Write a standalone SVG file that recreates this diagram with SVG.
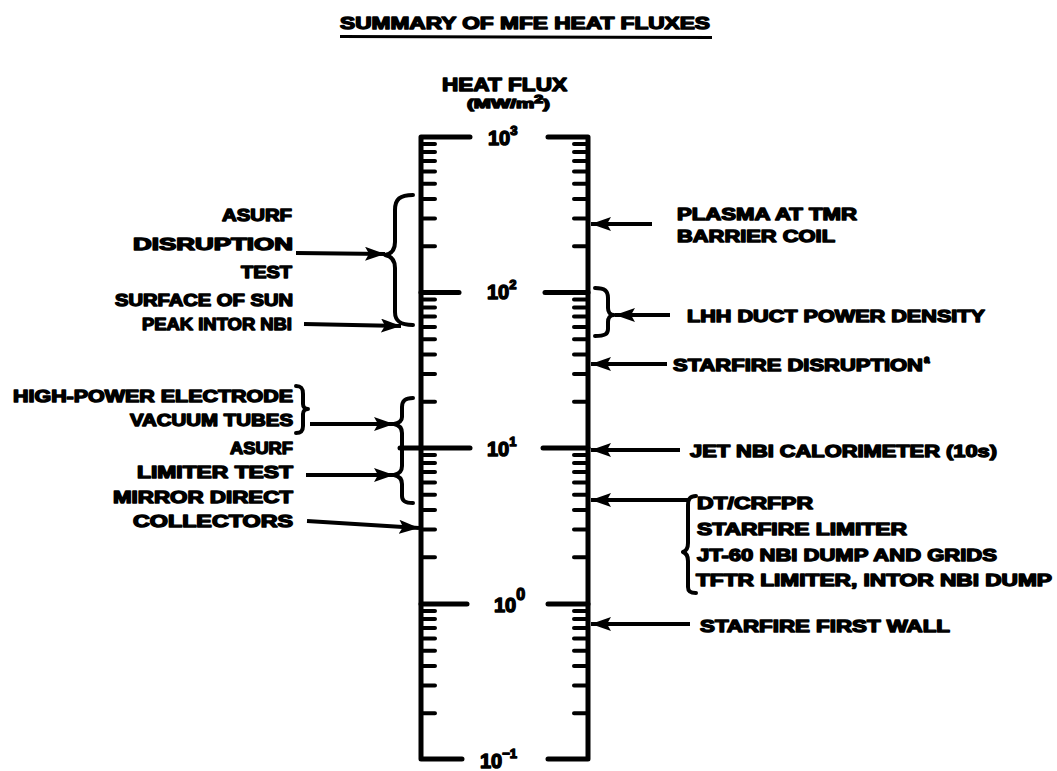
<svg xmlns="http://www.w3.org/2000/svg" width="1057" height="771" viewBox="0 0 1057 771">
<style>
.t{font-family:"Liberation Sans",Arial,sans-serif;font-weight:bold;font-size:17px;fill:#000;stroke:#000;stroke-width:1.4;stroke-linejoin:round}
.n{font-size:20px}
.ax{stroke:#000;stroke-width:5;fill:none;stroke-linecap:round;stroke-linejoin:round}
.tk{stroke:#000;stroke-width:4;fill:none;stroke-linecap:round}
.br{stroke:#000;stroke-width:4;fill:none;stroke-linecap:round;stroke-linejoin:round}
.ar{stroke:#000;stroke-width:4;fill:none;marker-end:url(#ah)}
</style>
<defs>
<marker id="ah" markerUnits="userSpaceOnUse" markerWidth="22" markerHeight="14" refX="20" refY="7" orient="auto">
<path d="M0,0 L20,7 L0,14 L4,7 z" fill="#000"/>
</marker>
</defs>
<rect width="1057" height="771" fill="#fff"/>

<g id="title">
<text class="t" x="340" y="29" textLength="370" lengthAdjust="spacingAndGlyphs">SUMMARY OF MFE HEAT FLUXES</text>
<line x1="340" y1="36.5" x2="712" y2="37.5" stroke="#000" stroke-width="3"/>
</g>

<g id="axis-title">
<text class="t" x="442" y="91" textLength="125" lengthAdjust="spacingAndGlyphs" style="font-size:19px">HEAT FLUX</text>
<text class="t" x="467" y="108" style="font-size:13px" textLength="83" lengthAdjust="spacingAndGlyphs">(MW/m<tspan dy="-5" style="font-size:10px">2</tspan><tspan dy="5">)</tspan></text>
</g>

<g id="axis">
<path class="ax" d="M470,137 L421,137 L421,759 L462,759"/>
<path class="ax" d="M548,137 L588,137 L588,759 L548,759"/>
<line class="ax" x1="421" y1="292.5" x2="459" y2="292.5"/>
<line class="ax" x1="545" y1="292.5" x2="588" y2="292.5"/>
<line class="ax" x1="400" y1="448" x2="470" y2="448"/>
<line class="ax" x1="543" y1="448" x2="588" y2="448"/>
<line class="ax" x1="421" y1="604" x2="467" y2="604"/>
<line class="ax" x1="548" y1="604" x2="588" y2="604"/>
<path class="tk" d="M421,144.1 h14 M421,152.1 h14 M421,161.1 h14 M421,171.5 h14 M421,183.8 h14 M421,198.9 h14 M421,218.4 h14 M421,246.2 h14
M421,299.6 h14 M421,307.6 h14 M421,316.6 h14 M421,327 h14 M421,339.3 h14 M421,354.4 h14 M421,373.9 h14 M421,401.7 h14
M421,455.1 h14 M421,463.1 h14 M421,472.1 h14 M421,482.5 h14 M421,494.8 h14 M421,509.9 h14 M421,529.4 h14 M421,557.2 h14
M421,611.1 h14 M421,619.1 h14 M421,628.1 h14 M421,638.5 h14 M421,650.8 h14 M421,665.9 h14 M421,685.4 h14 M421,713.2 h14"/>
<path class="tk" d="M588,144.1 h-14 M588,152.1 h-14 M588,161.1 h-14 M588,171.5 h-14 M588,183.8 h-14 M588,198.9 h-14 M588,218.4 h-14 M588,246.2 h-14
M588,299.6 h-14 M588,307.6 h-14 M588,316.6 h-14 M588,327 h-14 M588,339.3 h-14 M588,354.4 h-14 M588,373.9 h-14 M588,401.7 h-14
M588,455.1 h-14 M588,463.1 h-14 M588,472.1 h-14 M588,482.5 h-14 M588,494.8 h-14 M588,509.9 h-14 M588,529.4 h-14 M588,557.2 h-14
M588,611.1 h-14 M588,619.1 h-14 M588,628.1 h-14 M588,638.5 h-14 M588,650.8 h-14 M588,665.9 h-14 M588,685.4 h-14 M588,713.2 h-14"/>
<text class="t n" x="488" y="145">10<tspan dy="-10" style="font-size:13px">3</tspan></text>
<text class="t n" x="487" y="299">10<tspan dy="-10" style="font-size:13px">2</tspan></text>
<text class="t n" x="487" y="456">10<tspan dy="-10" style="font-size:13px">1</tspan></text>
<text class="t n" x="494" y="612">10<tspan dy="-12" style="font-size:16px">0</tspan></text>
<text class="t n" x="480" y="768">10<tspan dy="-10" style="font-size:13px">−1</tspan></text>
</g>

<g id="brace-left-1"><path class="br" d="M413,195 C400,195 395,199 395,210 L395,242 C395,250 391,254 385,255 C391,256 395,260 395,268 L395,312 C395,321 400,325 413,325"/></g>
<g id="brace-left-2"><path class="br" d="M413,398 C405,398 402,401 402,407 L402,417 C402,421 399,423 394,424 C399,425 402,428 402,433 L402,448"/></g>
<g id="brace-left-3"><path class="br" d="M402,448 L402,466 C402,471 399,474 394,475 C399,476 402,479 402,484 L402,496 C402,501 405,503 413,503"/></g>
<g id="brace-hpe"><path class="br" d="M296,386 C302,386 303,389 303,394 L303,404 C303,407 305,409 308,409 C305,409 303,411 303,414 L303,426 C303,431 301,433 296,433"/></g>
<g id="brace-lhh"><path class="br" d="M595,288 C605,288 608,291 608,298 L608,308 C608,312 610,315 614,315 C610,315 608,318 608,322 L608,329 C608,334 605,336 595,336"/></g>
<g id="brace-dt"><path class="br" d="M696,496 C690,496 688,499 688,505 L688,543 C688,548 686,551 683,552 C686,553 688,556 688,561 L688,587 C688,591 690,593 696,593"/></g>

<g id="connectors">
<line class="ar" x1="296" y1="253" x2="385" y2="254"/>
<line class="ar" x1="304" y1="324" x2="401" y2="326"/>
<line class="ar" x1="310" y1="424" x2="394" y2="424"/>
<line class="ar" x1="306" y1="475" x2="394" y2="475"/>
<line class="ar" x1="307" y1="521" x2="419" y2="528"/>
<line class="ar" x1="652" y1="224" x2="591" y2="224"/>
<line class="ar" x1="670" y1="315" x2="615" y2="315"/>
<line class="ar" x1="667" y1="364" x2="591" y2="364"/>
<line class="ar" x1="680" y1="450" x2="591" y2="450"/>
<line class="ar" x1="688" y1="500" x2="591" y2="500"/>
<line class="ar" x1="690" y1="624" x2="591" y2="624"/>
</g>

<g id="label-asurf-disruption">
<text class="t" x="222" y="221" textLength="70" lengthAdjust="spacingAndGlyphs">ASURF</text>
<text class="t" x="133" y="250" textLength="160" lengthAdjust="spacingAndGlyphs">DISRUPTION</text>
<text class="t" x="241" y="278" textLength="51" lengthAdjust="spacingAndGlyphs">TEST</text>
</g>
<g id="label-sun">
<text class="t" x="115" y="306" textLength="178" lengthAdjust="spacingAndGlyphs">SURFACE OF SUN</text>
<text class="t" x="142" y="330" textLength="150" lengthAdjust="spacingAndGlyphs">PEAK INTOR NBI</text>
</g>
<g id="label-hpe">
<text class="t" x="13" y="402" textLength="280" lengthAdjust="spacingAndGlyphs">HIGH-POWER ELECTRODE</text>
<text class="t" x="130" y="426" textLength="163" lengthAdjust="spacingAndGlyphs">VACUUM TUBES</text>
</g>
<g id="label-asurf-limiter">
<text class="t" x="230" y="454" textLength="63" lengthAdjust="spacingAndGlyphs">ASURF</text>
<text class="t" x="137" y="478" textLength="156" lengthAdjust="spacingAndGlyphs">LIMITER TEST</text>
</g>
<g id="label-mirror">
<text class="t" x="113" y="503" textLength="180" lengthAdjust="spacingAndGlyphs">MIRROR DIRECT</text>
<text class="t" x="133" y="527" textLength="160" lengthAdjust="spacingAndGlyphs">COLLECTORS</text>
</g>

<g id="label-plasma">
<text class="t" x="677" y="220" textLength="180" lengthAdjust="spacingAndGlyphs">PLASMA AT TMR</text>
<text class="t" x="677" y="242" textLength="158" lengthAdjust="spacingAndGlyphs">BARRIER COIL</text>
</g>
<g id="label-lhh">
<text class="t" x="687" y="322" textLength="298" lengthAdjust="spacingAndGlyphs">LHH DUCT POWER DENSITY</text>
</g>
<g id="label-starfire-disruption">
<text class="t" x="673" y="371" textLength="250" lengthAdjust="spacingAndGlyphs">STARFIRE DISRUPTION</text>
<text class="t" x="924" y="363" style="font-size:10px">a</text>
</g>
<g id="label-jet">
<text class="t" x="690" y="457" textLength="307" lengthAdjust="spacingAndGlyphs">JET NBI CALORIMETER (10s)</text>
</g>
<g id="label-dt">
<text class="t" x="697" y="509" textLength="116" lengthAdjust="spacingAndGlyphs">DT/CRFPR</text>
<text class="t" x="697" y="535" textLength="210" lengthAdjust="spacingAndGlyphs">STARFIRE LIMITER</text>
<text class="t" x="697" y="561" textLength="300" lengthAdjust="spacingAndGlyphs">JT-60 NBI DUMP AND GRIDS</text>
<text class="t" x="696" y="586" textLength="356" lengthAdjust="spacingAndGlyphs">TFTR LIMITER, INTOR NBI DUMP</text>
</g>
<g id="label-first-wall">
<text class="t" x="700" y="632" textLength="250" lengthAdjust="spacingAndGlyphs">STARFIRE FIRST WALL</text>
</g>
</svg>
